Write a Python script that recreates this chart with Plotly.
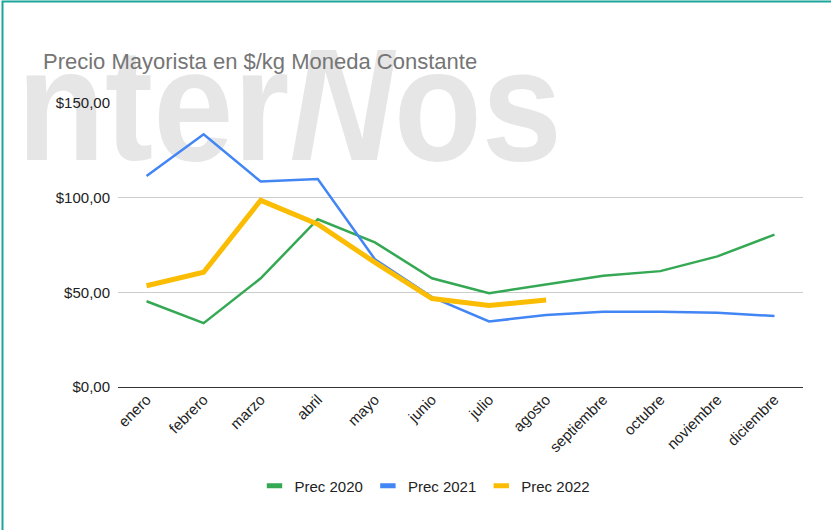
import base64
import plotly.graph_objects as go

months = ["enero", "febrero", "marzo", "abril", "mayo", "junio", "julio",
          "agosto", "septiembre", "octubre", "noviembre", "diciembre"]
prec_2020 = [45.3, 33.7, 57.4, 88.6, 76.4, 57.4, 49.5, 54.2, 58.8, 61.2, 69.0, 80.5]
prec_2021 = [111.5, 133.5, 108.5, 109.8, 67.5, 47.5, 34.6, 38.0, 39.8, 39.8, 39.2, 37.5]
prec_2022 = [53.5, 60.6, 98.6, 86.0, 65.8, 46.7, 43.1, 45.9]
series_names = ["Prec 2020", "Prec 2021", "Prec 2022"]
series_colors = ["#34a853", "#4285f4", "#fbbc04"]
ytick_vals = [0, 50, 100, 150]
ytick_text = ["$0,00", "$50,00", "$100,00", "$150,00"]

W, H = 831, 530
L, R, T, B = 118, 28, 103, 143
pw, ph = W - L - R, H - T - B

FONT = "Liberation Sans, Arial, sans-serif"

fig = go.Figure()
series = [prec_2020, prec_2021, prec_2022]
widths = [2.5, 2.5, 5]
for name, vals, col, w in zip(series_names, series, series_colors, widths):
    fig.add_trace(go.Scatter(x=months[:len(vals)], y=vals, name=name, mode="lines",
                             line=dict(color=col, width=w), showlegend=False))
# legend entries: short thick swatches like the original
for name, col in zip(series_names, series_colors):
    fig.add_trace(go.Scatter(x=[None], y=[None], name=name, mode="markers",
                             marker=dict(symbol="line-ew", size=11,
                                         line=dict(color=col, width=5)),
                             showlegend=True, hoverinfo="skip"))

# watermark ("InterNos", leading I cut off by the frame) as background svg image
svg = f'''<svg xmlns="http://www.w3.org/2000/svg" width="{W}" height="{H}">
<text x="17" y="160" font-family="Liberation Sans, Arial" font-weight="bold" font-size="160"
 fill="#e6e6e6" textLength="545" lengthAdjust="spacingAndGlyphs">nter<tspan font-style="italic">N</tspan>os</text>
</svg>'''
uri = "data:image/svg+xml;base64," + base64.b64encode(svg.encode()).decode()
fig.add_layout_image(dict(source=uri, xref="paper", yref="paper",
                          x=-L / pw, y=(ph + T) / ph, sizex=W / pw, sizey=H / ph,
                          xanchor="left", yanchor="top", sizing="stretch", layer="below"))

# teal frame (right and bottom edges fall outside the picture)
fig.add_shape(type="rect", xref="paper", yref="paper",
              x0=(2.5 - L) / pw, x1=(W + 40 - L) / pw,
              y0=-(H + 40 - T - ph) / ph, y1=(ph + T - 1.5) / ph,
              line=dict(color="#1ea59b", width=2), fillcolor="rgba(0,0,0,0)", layer="above")

fig.update_layout(
    width=W, height=H,
    margin=dict(l=L, r=R, t=T, b=B),
    paper_bgcolor="white",
    plot_bgcolor="rgba(0,0,0,0)",
    font=dict(family=FONT, color="#222222"),
    title=dict(text="Precio Mayorista en $/kg Moneda Constante",
               xref="container", yref="container", x=43 / W, xanchor="left",
               y=1 - 61 / H, yanchor="middle",
               font=dict(family=FONT, size=22, color="#757575")),
    showlegend=True,
    legend=dict(orientation="h", x=(425 - L) / pw, xanchor="center",
                y=-(486 - T - ph) / ph, yanchor="middle",
                font=dict(family=FONT, size=15, color="#222222"),
                bgcolor="rgba(0,0,0,0)"),
)
fig.update_xaxes(type="category", tickangle=-45, showgrid=False, showline=False,
                 tickfont=dict(family=FONT, size=15, color="#222222"), ticks="",
                 range=[-0.5, 11.5])
fig.update_yaxes(range=[0, 150], tickvals=ytick_vals, ticktext=ytick_text,
                 showgrid=True, gridcolor="#cccccc", gridwidth=1,
                 zeroline=True, zerolinecolor="#333333", zerolinewidth=1,
                 showline=False, ticks="", ticklabelstandoff=7,
                 tickfont=dict(family=FONT, size=15, color="#222222"))

fig.write_html("out.html", config={"displayModeBar": False},
               post_script="document.body.style.margin='0';document.body.style.overflow='hidden';")
